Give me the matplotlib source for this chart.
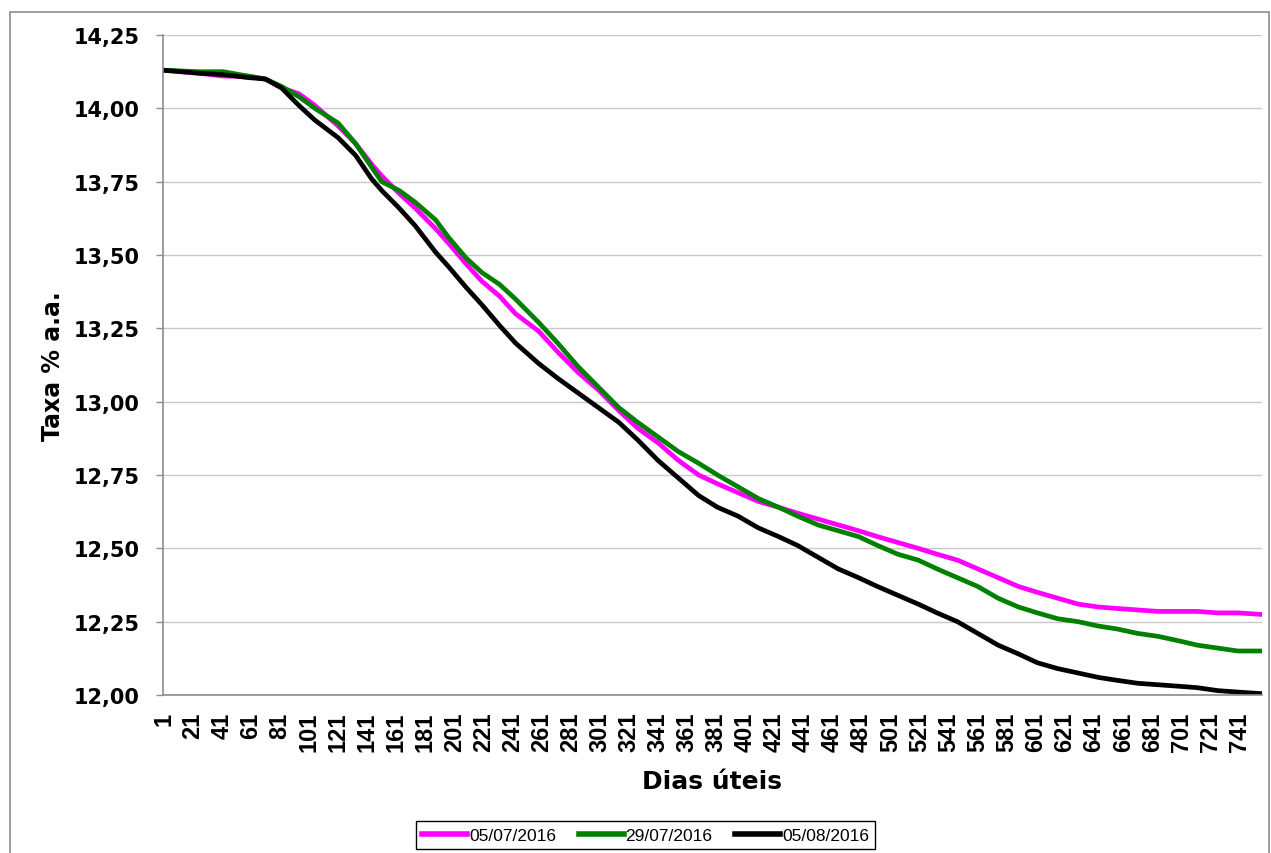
import matplotlib
matplotlib.use("Agg")
import matplotlib.pyplot as plt
from matplotlib.ticker import FuncFormatter
from matplotlib.patches import Rectangle

# Dias úteis
days = [1, 25, 42, 59, 71, 82, 94, 105, 121, 133, 144, 151, 163, 174, 188, 197,
        209, 220, 232, 243, 259, 272, 286, 300, 314, 327, 341, 355, 369, 382,
        396, 410, 424, 437, 451, 465, 479, 492, 506, 520, 533, 547, 561, 575,
        589, 602, 616, 630, 644, 657, 671, 685, 699, 712, 726, 740, 755]

taxa_0507 = [14.13, 14.12, 14.11, 14.11, 14.10, 14.07, 14.05, 14.01, 13.94, 13.88,
             13.81, 13.77, 13.71, 13.66, 13.59, 13.54, 13.47, 13.41, 13.36, 13.30,
             13.24, 13.17, 13.10, 13.04, 12.97, 12.91, 12.86, 12.80, 12.75, 12.72,
             12.69, 12.66, 12.64, 12.62, 12.60, 12.58, 12.56, 12.54, 12.52, 12.50,
             12.48, 12.46, 12.43, 12.40, 12.37, 12.35, 12.33, 12.31, 12.30, 12.295,
             12.29, 12.285, 12.285, 12.285, 12.28, 12.28, 12.275]

taxa_2907 = [14.13, 14.125, 14.125, 14.11, 14.10, 14.075, 14.04, 14.00, 13.95, 13.88,
             13.80, 13.75, 13.72, 13.68, 13.62, 13.56, 13.49, 13.44, 13.40, 13.35,
             13.27, 13.20, 13.12, 13.05, 12.98, 12.93, 12.88, 12.83, 12.79, 12.75,
             12.71, 12.67, 12.64, 12.61, 12.58, 12.56, 12.54, 12.51, 12.48, 12.46,
             12.43, 12.40, 12.37, 12.33, 12.30, 12.28, 12.26, 12.25, 12.235, 12.225,
             12.21, 12.20, 12.185, 12.17, 12.16, 12.15, 12.15]

taxa_0508 = [14.13, 14.12, 14.115, 14.105, 14.10, 14.07, 14.01, 13.96, 13.90, 13.84,
             13.76, 13.72, 13.66, 13.60, 13.51, 13.46, 13.39, 13.33, 13.26, 13.20,
             13.13, 13.08, 13.03, 12.98, 12.93, 12.87, 12.80, 12.74, 12.68, 12.64,
             12.61, 12.57, 12.54, 12.51, 12.47, 12.43, 12.40, 12.37, 12.34, 12.31,
             12.28, 12.25, 12.21, 12.17, 12.14, 12.11, 12.09, 12.075, 12.06, 12.05,
             12.04, 12.035, 12.03, 12.025, 12.015, 12.01, 12.005]

series_labels = ["05/07/2016", "29/07/2016", "05/08/2016"]
series_colors = ["#FF00FF", "#008000", "#000000"]

x_ticks = list(range(1, 742, 20))
y_ticks = [12.00, 12.25, 12.50, 12.75, 13.00, 13.25, 13.50, 13.75, 14.00, 14.25]

fig = plt.figure(figsize=(12.71, 8.54), dpi=100)
ax = fig.add_axes([0.1282, 0.185, 0.8647, 0.7728])

for vals, lab, col in zip([taxa_0507, taxa_2907, taxa_0508], series_labels, series_colors):
    ax.plot(days, vals, color=col, lw=3.4, label=lab, solid_joinstyle="round")

ax.set_xlim(0.5, 756.5)
ax.set_ylim(12.0, 14.25)
ax.set_xticks(x_ticks)
ax.set_xticklabels([str(t) for t in x_ticks], rotation=90, family="Liberation Sans",
                   fontweight="bold", fontsize=17)
ax.set_yticks(y_ticks)
ax.yaxis.set_major_formatter(FuncFormatter(lambda v, p: f"{v:.2f}".replace(".", ",")))
for t in ax.get_yticklabels():
    t.set_fontweight("bold")
    t.set_fontsize(15)
    t.set_family("DejaVu Sans")

ax.tick_params(axis="x", length=0, pad=12)
ax.tick_params(axis="y", length=5, width=1, color="#8c8c8c", pad=12)

ax.grid(axis="y", color="#c8c8c8", lw=1)
ax.set_axisbelow(True)
for s in ["top", "right"]:
    ax.spines[s].set_visible(False)
for s in ["left", "bottom"]:
    ax.spines[s].set_color("#8c8c8c")
    ax.spines[s].set_linewidth(1.2)

ax.set_ylabel("Taxa % a.a.", fontsize=17, fontweight="bold", labelpad=6)
ax.set_xlabel("Dias úteis", fontsize=18, fontweight="bold", labelpad=13)

leg = fig.legend(loc="center", bbox_to_anchor=(0.508, 0.021), ncol=3,
                 prop={"family": "Liberation Sans", "size": 12.5},
                 frameon=True, fancybox=False, edgecolor="black", framealpha=1,
                 handlelength=2.6, handletextpad=0.1, columnspacing=1.3,
                 borderpad=0.35)
leg.get_frame().set_linewidth(1.0)
for h in leg.get_lines():
    h.set_linewidth(4)

# outer chart border
fig.patches.append(Rectangle((10 / 1271, -0.05), 1259 / 1271, (841 / 854) + 0.05,
                             transform=fig.transFigure, fill=False,
                             edgecolor="#8c8c8c", lw=1.2, zorder=0))

fig.savefig("out.png", dpi=100)
